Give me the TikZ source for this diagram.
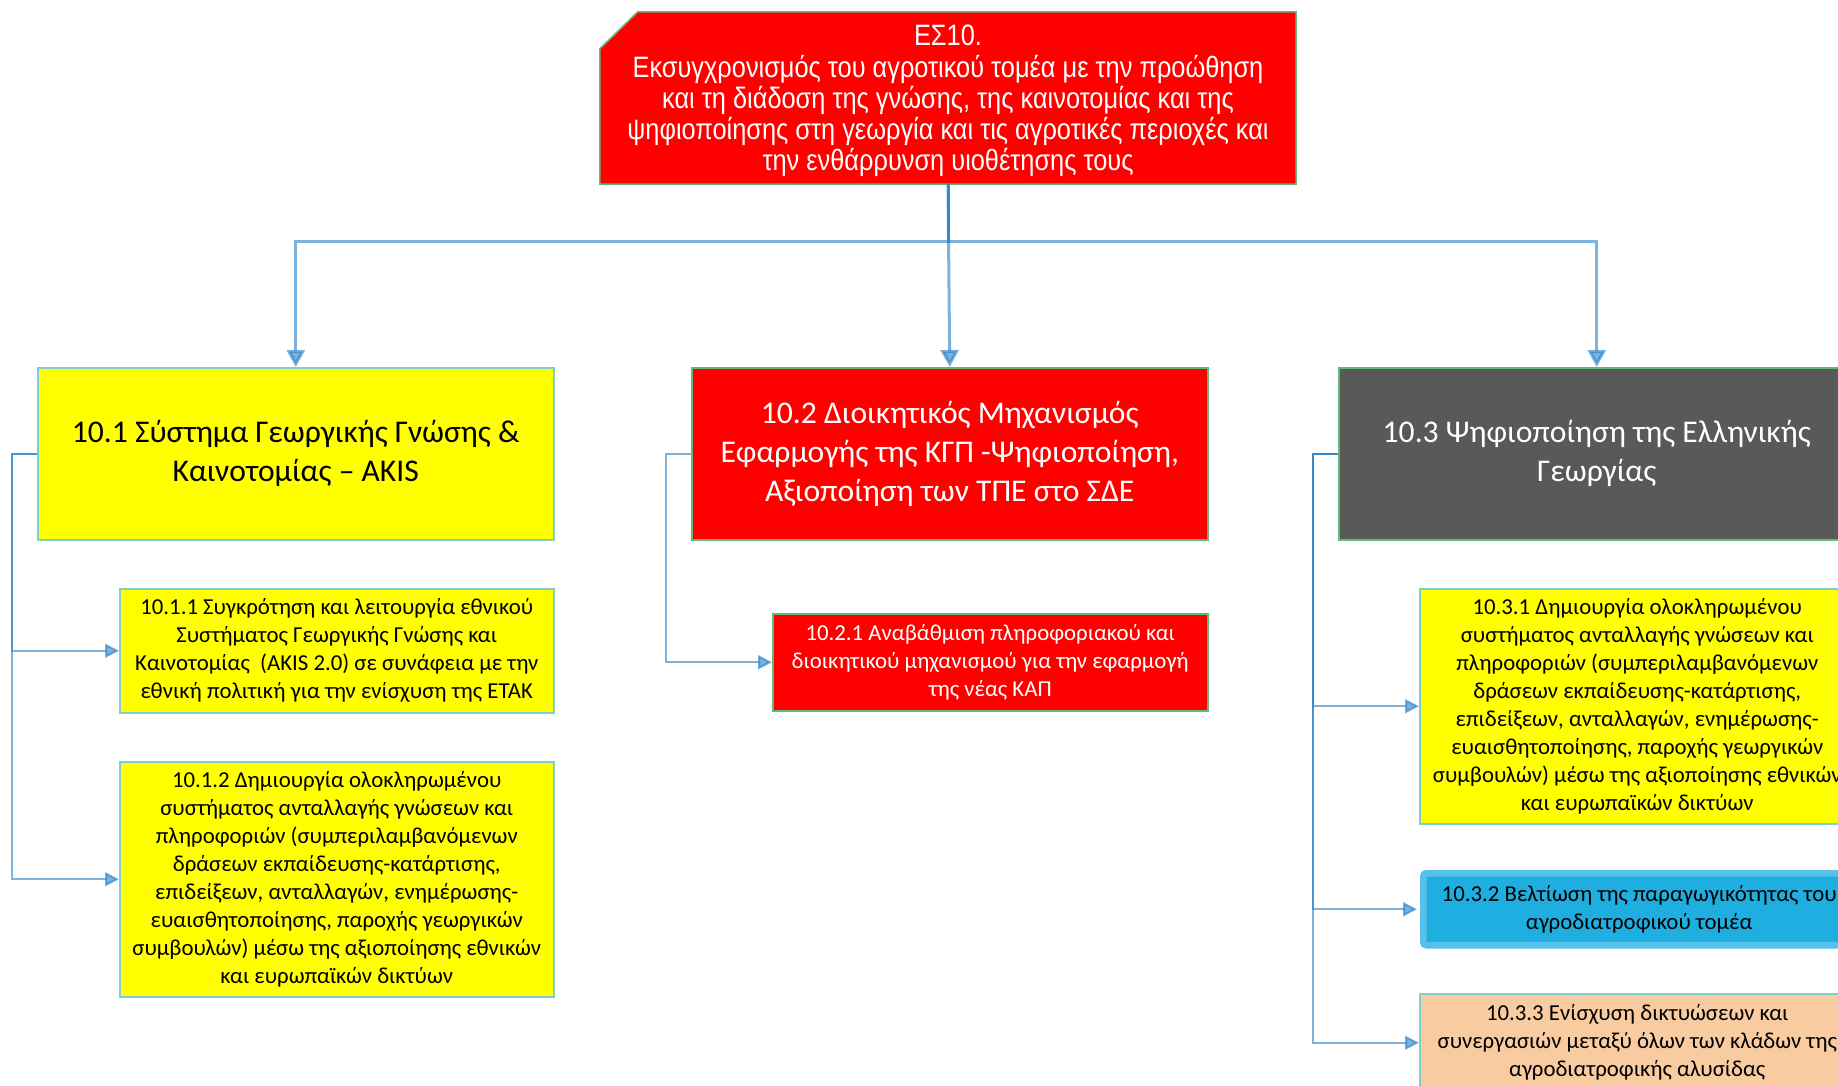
\documentclass[tikz,border=0pt]{standalone}
\usepackage{fontspec}
\setmainfont{Carlito}
\newfontfamily\arialn[FakeStretch=0.86]{Liberation Sans}
\usetikzlibrary{arrows.meta,backgrounds,calc}
\definecolor{lnk}{HTML}{267FC8}
\definecolor{bred}{HTML}{FF0000}
\definecolor{byel}{HTML}{FFFF00}
\definecolor{bgrey}{HTML}{595959}
\definecolor{bblue}{HTML}{1FAEE0}
\definecolor{bblueb}{HTML}{56C1EA}
\definecolor{bpeach}{HTML}{F8CBA0}
\definecolor{tealb}{HTML}{7ECFCB}
\definecolor{greenb}{HTML}{62B875}
\tikzset{
  box/.style={draw, line width=1.5pt, rectangle, anchor=north west, inner sep=0pt, align=center},
  big/.style={font=\fontsize{31.6}{39}\selectfont},
  small/.style={font=\fontsize{22.8}{28}\selectfont},
  topconn/.style={draw=lnk, opacity=0.6, line width=3pt, -{Triangle[length=17pt,width=18pt]}},
  subconn/.style={draw=lnk, opacity=0.6, line width=2pt, -{Triangle[length=14pt,width=14pt]}},
}
\begin{document}
\begin{tikzpicture}[x=1pt,y=-1pt]
\useasboundingbox (0,0) rectangle (1838,1086);
\clip (0,0) rectangle (1838,1086);

% top box (text node; outline drawn behind it)
\node[rectangle, inner sep=0pt, text=white,
      minimum width=696pt, minimum height=172pt, align=center,
      font=\arialn\fontsize{29.5}{31.2}\selectfont] (top) at (948,101)
  {ΕΣ10.\\Εκσυγχρονισμός του αγροτικού τομέα με την προώθηση\\και τη διάδοση της γνώσης, της καινοτομίας και της\\ψηφιοποίησης στη γεωργία και τις αγροτικές περιοχές και\\την ενθάρρυνση υιοθέτησης τους};
\coordinate (topb) at ($(top.south)+(0,-3)$);
\begin{scope}[on background layer]
\fill[white] (0,0) rectangle (1838,1086);
\draw[draw=greenb, line width=1.5pt, fill=bred]
  ($(top.north west)+(0,34)$) -- ($(top.north west)+(38,-3)$) -- ($(top.north east)+(0,-3)$)
  -- ($(top.south east)+(0,-3)$) -- ($(top.south west)+(0,-3)$) -- cycle;
\end{scope}

% level 2
\node[box, big, draw=tealb, fill=byel, minimum width=516pt, minimum height=172pt] (b101) at (37,367)
  {10.1 Σύστημα Γεωργικής Γνώσης \&\\Καινοτομίας – AKIS};
\node[box, big, draw=greenb, fill=bred, text=white, minimum width=516pt, minimum height=172pt] (b102) at (691,367)
  {10.2 Διοικητικός Μηχανισμός\\Εφαρμογής της ΚΓΠ -Ψηφιοποίηση,\\Αξιοποίηση των ΤΠΕ στο ΣΔΕ};
\node[box, big, draw=greenb, fill=bgrey, text=white, minimum width=516pt, minimum height=172pt] (b103) at (1338,367)
  {10.3 Ψηφιοποίηση της Ελληνικής\\Γεωργίας};

% level 3
\node[box, small, draw=tealb, fill=byel, minimum width=434pt, minimum height=124pt] (b1011) at (119,588)
  {10.1.1 Συγκρότηση και λειτουργία εθνικού\\Συστήματος Γεωργικής Γνώσης και\\Καινοτομίας\ \ (AKIS 2.0) σε συνάφεια με την\\εθνική πολιτική για την ενίσχυση της ΕΤΑΚ};
\node[box, small, draw=tealb, fill=byel, minimum width=434pt, minimum height=235pt] (b1012) at (119,761)
  {10.1.2 Δημιουργία ολοκληρωμένου\\συστήματος ανταλλαγής γνώσεων και\\πληροφοριών (συμπεριλαμβανόμενων\\δράσεων εκπαίδευσης-κατάρτισης,\\επιδείξεων, ανταλλαγών, ενημέρωσης-\\ευαισθητοποίησης, παροχής γεωργικών\\συμβουλών) μέσω της αξιοποίησης εθνικών\\και ευρωπαϊκών δικτύων};
\node[box, small, draw=greenb, fill=bred, text=white, minimum width=435pt, minimum height=97pt] (b1021) at (772,613)
  {10.2.1 Αναβάθμιση πληροφοριακού και\\διοικητικού μηχανισμού για την εφαρμογή\\της νέας ΚΑΠ};
\node[box, small, draw=tealb, fill=byel, minimum width=435pt, minimum height=235pt] (b1031) at (1419,588)
  {10.3.1 Δημιουργία ολοκληρωμένου\\συστήματος ανταλλαγής γνώσεων και\\πληροφοριών (συμπεριλαμβανόμενων\\δράσεων εκπαίδευσης-κατάρτισης,\\επιδείξεων, ανταλλαγών, ενημέρωσης-\\ευαισθητοποίησης, παροχής γεωργικών\\συμβουλών) μέσω της αξιοποίησης εθνικών\\και ευρωπαϊκών δικτύων};
\node[box, small, draw=bblueb, line width=6.5pt, rounded corners=3pt, fill=bblue, minimum width=432pt, minimum height=72pt] (b1032) at (1420,870)
  {10.3.2 Βελτίωση της παραγωγικότητας του\\αγροδιατροφικού τομέα};
\node[box, small, draw=tealb, fill=bpeach, minimum width=435pt, minimum height=98pt] (b1033) at (1419,993)
  {10.3.3 Ενίσχυση δικτυώσεων και\\συνεργασιών μεταξύ όλων των κλάδων της\\αγροδιατροφικής αλυσίδας};

% top connectors
\coordinate (j) at (948,241);
\draw[topconn] (topb) -- (topb |- j) -| (b101.north);
\draw[topconn] (topb) -- (b102.north);
\draw[topconn] (topb) -- (topb |- j) -| (b103.north);

% sub connectors
\draw[subconn] (b101.west) -- ++(-25,0) |- (b1011.west);
\draw[subconn] (b101.west) -- ++(-25,0) |- (b1012.west);
\draw[subconn] (b102.west) -- ++(-25,0) |- (b1021.west);
\draw[subconn] (b103.west) -- ++(-25,0) |- (b1031.west);
\draw[subconn] (b103.west) -- ++(-25,0) |- ([xshift=-3pt]b1032.west);
\draw[subconn] (b103.west) -- ++(-25,0) |- (b1033.west);
\end{tikzpicture}
\end{document}
